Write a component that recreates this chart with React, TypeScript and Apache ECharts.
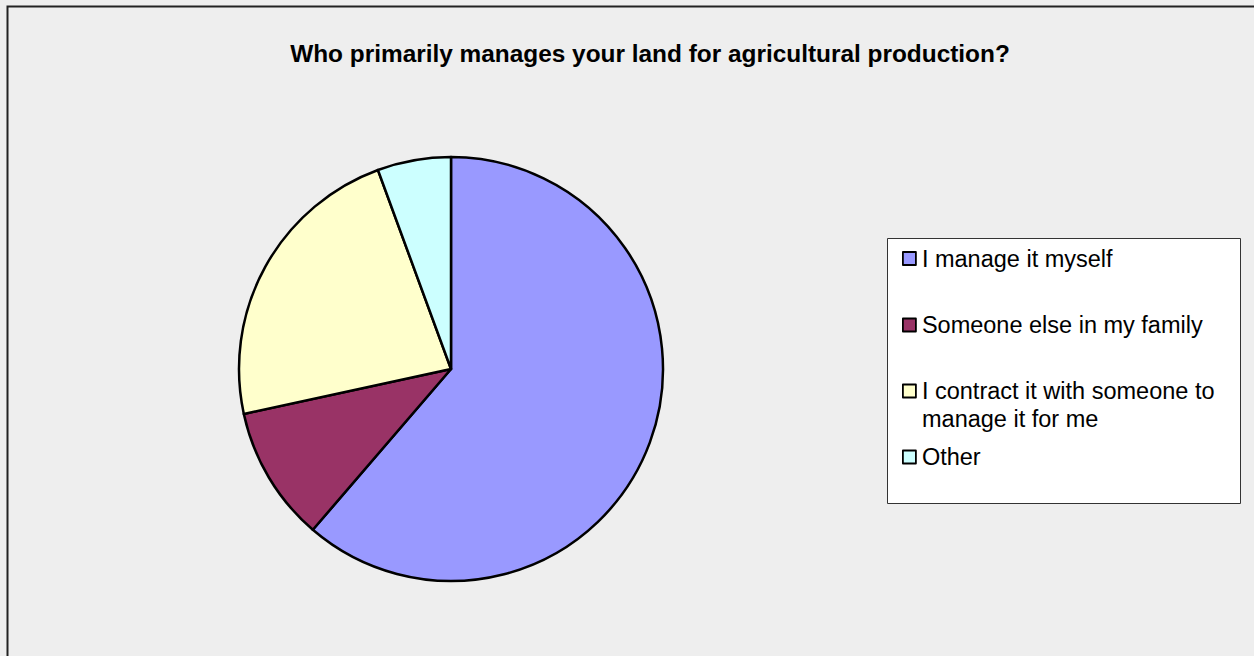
import React, { useEffect, useRef } from "react";
import * as echarts from "echarts";

const categories = [
  "I manage it myself",
  "Someone else in my family",
  "I contract it with someone to\nmanage it for me",
  "Other",
];
const values = [61.3, 10.3, 22.8, 5.6];
const colors = ["#9999ff", "#993366", "#ffffcc", "#ccffff"];
const titleText = "Who primarily manages your land for agricultural production?";

export default function App() {
  const ref = useRef<HTMLDivElement>(null);
  useEffect(() => {
    if (!ref.current) return;
    const chart = echarts.init(ref.current, undefined, { renderer: "svg" });
    const legendCenters = [258.5, 325, 391, 457];
    const fontFamily = "Liberation Sans, Arial, sans-serif";
    const extraLines: any[] = [];
    categories.forEach((c, i) => {
      const lines = c.split("\n");
      lines.slice(1).forEach((l, j) => {
        extraLines.push({
          type: "text",
          x: 922,
          y: legendCenters[i] + 28 * (j + 1),
          z: 6,
          style: {
            text: l,
            fill: "#000",
            font: `23.5px ${fontFamily}`,
            textVerticalAlign: "middle",
            verticalAlign: "middle",
          },
        });
      });
    });
    chart.setOption({
      animation: false,
      backgroundColor: "#eeeeee",
      title: {
        text: titleText,
        left: 645,
        textAlign: "center",
        top: 36,
        textStyle: {
          fontFamily,
          fontSize: 24.4,
          fontWeight: "bold",
          color: "#000",
        },
      },
      graphic: [
        {
          type: "rect",
          shape: { x: 7.5, y: 6.5, width: 1300, height: 700 },
          style: { fill: "none", stroke: "#222", lineWidth: 2 },
          z: 0,
        },
        {
          type: "rect",
          shape: { x: 887.5, y: 238.5, width: 353, height: 265 },
          style: { fill: "#ffffff", stroke: "#333", lineWidth: 1 },
          z: 1,
        },
        ...extraLines,
      ],
      legend: categories.map((c, i) => ({
        data: [c],
        orient: "vertical",
        left: 897,
        top: legendCenters[i] - 19,
        itemWidth: 13,
        itemHeight: 13,
        itemGap: 6,
        icon: "rect",
        selectedMode: false,
        itemStyle: { borderColor: "#000", borderWidth: 1.8 },
        formatter: (name: string) => name.split("\n")[0],
        textStyle: {
          fontFamily,
          fontSize: 23.5,
          color: "#000",
          lineHeight: 28,
          padding: [0, 0, 0, 1],
        },
        z: 5,
      })),
      series: [
        {
          type: "pie",
          center: [451, 369],
          radius: 212,
          startAngle: 90,
          clockwise: true,
          label: { show: false },
          labelLine: { show: false },
          emphasis: { disabled: true },
          itemStyle: { borderColor: "#000", borderWidth: 2.5 },
          data: categories.map((c, i) => ({
            name: c,
            value: values[i],
            itemStyle: { color: colors[i] },
          })),
        },
      ],
    });
    return () => chart.dispose();
  }, []);
  return (
    <div
      ref={ref}
      style={{ position: "fixed", left: 0, top: 0, width: 1254, height: 656 }}
    />
  );
}
